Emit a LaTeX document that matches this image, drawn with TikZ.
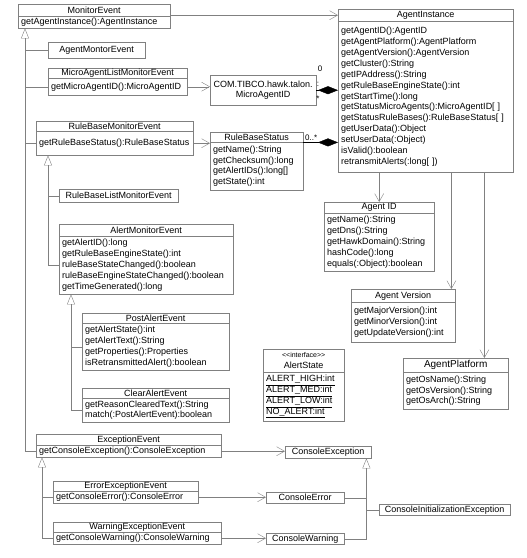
\documentclass[tikz,border=0pt]{standalone}
\usepackage{fontspec}
\setmainfont{Liberation Sans}
\usetikzlibrary{arrows.meta}
\definecolor{linegray}{RGB}{128,128,128}

\begin{document}
\begin{tikzpicture}[x=1pt, y=-1pt, every node/.style={font=\fontsize{9}{10.9}\selectfont},
  hd/.style={draw=linegray, anchor=north west, inner sep=0pt, align=center},
  ops/.style={draw=linegray, anchor=north west, inner xsep=3pt, inner ysep=0pt, align=left},
  gen/.style={draw=linegray, -{Triangle[open, length=10pt, width=8pt]}},
  assoc/.style={draw=linegray, -{Straight Barb[length=8pt, width=9pt]}},
  comp/.style={{Diamond[length=20pt, width=8pt]}-},
  mult/.style={inner sep=0pt, font=\fontsize{8}{9}\selectfont}]
  \useasboundingbox (0,0) rectangle (527,558);

  % event classes
  \node[hd, minimum width=152pt, minimum height=12pt] (me) at (18,4) {MonitorEvent};
  \node[ops, text width=146pt, minimum height=12pt] (meb) at (18,16) {getAgentInstance():AgentInstance};
  \node[hd, minimum width=97pt, minimum height=16pt] (ame) at (48,42) {AgentMontorEvent};
  \node[hd, minimum width=139pt, minimum height=10pt] (male) at (48,68) {MicroAgentListMonitorEvent};
  \node[ops, text width=133pt, minimum height=17pt] (maleb) at (48,78) {getMicroAgentID():MicroAgentID};
  \node[hd, minimum width=157pt, minimum height=10pt] (rbme) at (36,121) {RuleBaseMonitorEvent};
  \node[ops, text width=151pt, minimum height=24pt] (rbmeb) at (36,131) {getRuleBaseStatus():RuleBaseStatus};
  \node[hd, minimum width=119pt, minimum height=13pt] (rblme) at (59,189) {RuleBaseListMonitorEvent};
  \node[hd, minimum width=174pt, minimum height=12pt] (ale) at (59,224) {AlertMonitorEvent};
  \node[ops, text width=168pt, minimum height=58pt] (aleb) at (59,236) {getAlertID():long\\getRuleBaseEngineState():int\\ruleBaseStateChanged():boolean\\ruleBaseEngineStateChanged():boolean\\getTimeGenerated():long};
  \node[hd, minimum width=147pt, minimum height=10pt] (pae) at (82,313) {PostAlertEvent};
  \node[ops, text width=141pt, minimum height=47pt] (paeb) at (82,323) {getAlertState():int\\getAlertText():String\\getProperties():Properties\\isRetransmittedAlert():boolean};
  \node[hd, minimum width=147pt, minimum height=10pt] (cae) at (82,388) {ClearAlertEvent};
  \node[ops, text width=141pt, minimum height=24pt] (caeb) at (82,398) {getReasonClearedText():String\\match(:PostAlertEvent):boolean};
  \node[hd, minimum width=185pt, minimum height=11pt] (exe) at (36,434) {ExceptionEvent};
  \node[ops, text width=179pt, minimum height=12pt] (exeb) at (36,445) {getConsoleException():ConsoleException};
  \node[hd, minimum width=145pt, minimum height=10pt] (eee) at (53,481) {ErrorExceptionEvent};
  \node[ops, text width=139pt, minimum height=12pt] (eeeb) at (53,491) {getConsoleError():ConsoleError};
  \node[hd, minimum width=168pt, minimum height=10pt] (wee) at (53,522) {WarningExceptionEvent};
  \node[ops, text width=162pt, minimum height=12pt] (weeb) at (53,532) {getConsoleWarning():ConsoleWarning};

  % agent side
  \node[hd, minimum width=106pt, minimum height=30pt] (maid) at (210,75) {COM.TIBCO.hawk.talon.\\MicroAgentID};
  \node[hd, minimum width=93pt, minimum height=10pt] (rbs) at (210,132) {RuleBaseStatus};
  \node[ops, text width=87pt, minimum height=48pt] (rbsb) at (210,142) {getName():String\\getChecksum():long\\getAlertIDs():long[]\\getState():int};
  \node[hd, minimum width=175pt, minimum height=12pt] (ai) at (338,9) {AgentInstance};
  \node[ops, text width=169pt, minimum height=151pt] (aib) at (338,21) {getAgentID():AgentID\\getAgentPlatform():AgentPlatform\\getAgentVersion():AgentVersion\\getCluster():String\\getIPAddress():String\\getRuleBaseEngineState():int\\getStartTime():long\\getStatusMicroAgents():MicroAgentID[ ]\\getStatusRuleBases():RuleBaseStatus[ ]\\getUserData():Object\\setUserData(:Object)\\isValid():boolean\\retransmitAlerts(:long[ ])};
  \node[hd, minimum width=110pt, minimum height=11pt] (aid) at (324,202) {Agent ID};
  \node[ops, text width=104pt, minimum height=58pt] (aidb) at (324,213) {getName():String\\getDns():String\\getHawkDomain():String\\hashCode():long\\equals(:Object):boolean};
  \node[hd, minimum width=104pt, minimum height=13pt] (aver) at (351,289) {Agent Version};
  \node[ops, text width=98pt, minimum height=40pt] (averb) at (351,302) {getMajorVersion():int\\getMinorVersion():int\\getUpdateVersion():int};
  \node[hd, minimum width=105pt, minimum height=14pt, font=\fontsize{10}{12}\selectfont] (apf) at (403,358) {AgentPlatform};
  \node[ops, text width=99pt, minimum height=37pt] (apfb) at (403,372) {getOsName():String\\getOsVersion():String\\getOsArch():String};
  \node[hd, minimum width=81pt, minimum height=23pt] (ast) at (263,349) {{\fontsize{7}{8}\selectfont {<}{<}interface{>}{>}}\\AlertState};
  \node[ops, text width=75pt, minimum height=49pt] (astb) at (263,372) {\underline{ALERT\_HIGH:int}\\\underline{ALERT\_MED:int}\\\underline{ALERT\_LOW:int}\\\underline{NO\_ALERT:int}};

  % exceptions
  \node[hd, minimum width=86pt, minimum height=12pt] (cex) at (285,446) {ConsoleException};
  \node[hd, minimum width=78pt, minimum height=11pt] (cer) at (266,492) {ConsoleError};
  \node[hd, minimum width=78pt, minimum height=11pt] (cwa) at (266,533) {ConsoleWarning};
  \node[hd, minimum width=131pt, minimum height=11pt] (cie) at (379,504) {ConsoleInitializationException};

  % inheritance
  \coordinate (metip) at ([xshift=7pt]meb.south west);
  \draw[gen] (exeb.west) -| (metip);
  \draw[linegray] (ame.west) -- (ame.west -| metip);
  \draw[linegray] (maleb.west) -- (maleb.west -| metip);
  \draw[linegray] (rbmeb.west) -- (rbmeb.west -| metip);
  \coordinate (rbtip) at ([xshift=12pt]rbmeb.south west);
  \draw[gen] (aleb.west) -| (rbtip);
  \draw[linegray] (rblme.west) -- (rblme.west -| rbtip);
  \coordinate (altip) at ([xshift=12pt]aleb.south west);
  \draw[gen] (caeb.west) -| (altip);
  \draw[linegray] (paeb.west) -- (paeb.west -| altip);
  \coordinate (extip) at ([xshift=6pt]exeb.south west);
  \draw[gen] (weeb.west) -| (extip);
  \draw[linegray] (eeeb.west) -- (eeeb.west -| extip);
  \coordinate (cxtip) at ([xshift=-5pt]cex.south east);
  \draw[gen] (cwa.east) -| (cxtip);
  \draw[linegray] (cer.east) -- (cer.east -| cxtip);
  \draw[linegray] (cie.west) -- (cie.west -| cxtip);

  % associations
  \draw[assoc] (me.east |- ai.west) -- (ai.west);
  \draw[assoc] (maleb.east) -- (maleb.east -| maid.west);
  \draw[assoc] (rbmeb.east) -- (rbmeb.east -| rbs.west);
  \draw[assoc] (exeb.east) -- (exeb.east -| cex.west);
  \draw[assoc] (eeeb.east) -- (eeeb.east -| cer.west);
  \draw[assoc] (weeb.east) -- (weeb.east -| cwa.west);
  \coordinate (vtop) at ([xshift=-4pt]aver.north east);
  \coordinate (ptop) at ([xshift=-24pt]apf.north east);
  \draw[assoc] (aib.south -| aid.north) -- (aid.north);
  \draw[assoc] (aib.south -| vtop) -- (vtop);
  \draw[assoc] (aib.south -| ptop) -- (ptop);

  % composition
  \draw[comp] (aib.west |- maid.east) -- (maid.east);
  \draw[comp] (aib.west |- rbs.south east) -- (rbs.south east);
  \node[mult] (m0) at (320,69) {0};
  \node[mult] (m1) at (318,84) {:};
  \node[mult] (m2) at (318,99) {*};
  \node[mult, anchor=west] (m3) at (305,138) {0..*};
\end{tikzpicture}
\end{document}
